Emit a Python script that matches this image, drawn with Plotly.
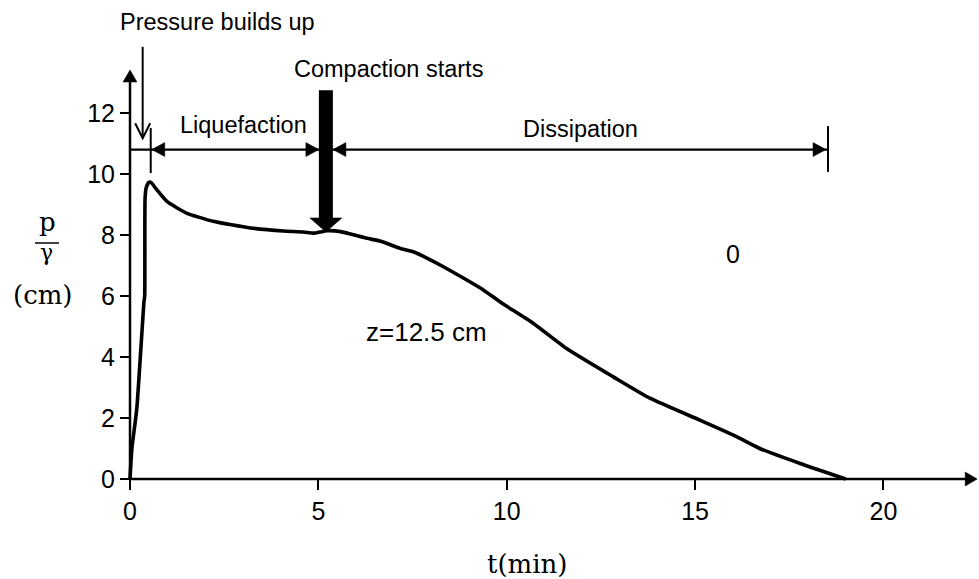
import plotly.graph_objects as go

# ---------------- data ----------------
t_min = [0, 0.05, 0.18, 0.37, 0.39, 0.40, 0.43, 0.50, 0.56, 0.70, 0.98, 1.5, 2.2,
         3.2, 4.07, 4.6, 4.87, 5.05, 5.23, 5.59, 6.29, 6.64, 7.18, 7.52, 8.32, 9.38,
         9.82, 10.71, 11.59, 12.83, 13.8, 15.13, 16.02, 16.72, 17.79, 19.0]
p_cm = [0, 1.0, 2.3, 5.8, 6.0, 9.2, 9.55, 9.73, 9.72, 9.5, 9.1, 8.72, 8.45,
        8.23, 8.13, 8.1, 8.06, 8.1, 8.14, 8.11, 7.89, 7.8, 7.56, 7.45, 6.96, 6.2,
        5.81, 5.1, 4.28, 3.35, 2.65, 1.93, 1.44, 1.0, 0.51, 0]

x_ticks = [0, 5, 10, 15, 20]
y_ticks = [0, 2, 4, 6, 8, 10, 12]

# event times / levels (minutes, cm)
t_build = 0.55        # end of pressure build-up
t_compact = 5.2       # compaction starts
t_end = 18.53         # end of dissipation
level_dim = 10.8      # level of the dimension line
x_axis_end = 22.49
y_axis_end = 13.41

# ---------------- layout geometry ----------------
W, H = 979, 579
ML, MR, MT, MB = 110, 0, 0, 80
X0PX, Y0PX = 130, 479          # pixel position of the origin
XPU, YPU = 37.67, 30.5         # pixels per unit
pw, ph = W - ML - MR, H - MT - MB
x_range = [-(X0PX - ML) / XPU, (W - MR - X0PX) / XPU]
y_range = [-((H - MB) - Y0PX) / YPU, (Y0PX - MT) / YPU]

def dx(px):
    return px / XPU

def dy(px):
    return px / YPU

BLACK = "#000000"
SANS = "Liberation Sans, Arial, sans-serif"
SERIF = "DejaVu Serif, serif"

fig = go.Figure()
fig.add_trace(go.Scatter(x=t_min, y=p_cm, mode="lines",
                         line=dict(color=BLACK, width=3.6, shape="spline", smoothing=0.5),
                         hoverinfo="skip", showlegend=False, cliponaxis=False))

shapes = []

def line(x0, y0, x1, y1, w=2):
    shapes.append(dict(type="line", xref="x", yref="y", x0=x0, y0=y0, x1=x1, y1=y1,
                       line=dict(color=BLACK, width=w)))

def tri(tipx, tipy, direction, length_px, half_px):
    # filled triangle arrowhead
    if direction == "right":
        pts = [(tipx, tipy), (tipx - dx(length_px), tipy + dy(half_px)), (tipx - dx(length_px), tipy - dy(half_px))]
    elif direction == "left":
        pts = [(tipx, tipy), (tipx + dx(length_px), tipy + dy(half_px)), (tipx + dx(length_px), tipy - dy(half_px))]
    elif direction == "up":
        pts = [(tipx, tipy), (tipx - dx(half_px), tipy - dy(length_px)), (tipx + dx(half_px), tipy - dy(length_px))]
    else:
        pts = [(tipx, tipy), (tipx - dx(half_px), tipy + dy(length_px)), (tipx + dx(half_px), tipy + dy(length_px))]
    path = "M " + " L ".join(f"{a},{b}" for a, b in pts) + " Z"
    shapes.append(dict(type="path", xref="x", yref="y", path=path,
                       fillcolor=BLACK, line=dict(color=BLACK, width=0.5)))

# axes with arrows
line(0, 0, x_axis_end - dx(8), 0, 2.5)
tri(x_axis_end, 0, "right", 12, 7)
line(0, 0, 0, y_axis_end - dy(8), 2.5)
tri(0, y_axis_end, "up", 12, 7)

# dimension line
line(0, level_dim, t_end, level_dim, 2.2)
line(t_build, 10.03, t_build, 11.51, 2)
line(t_end, 10.07, t_end, 11.57, 2)
bar_half = dx(7)
tri(t_build + dx(1), level_dim, "left", 13, 7)
tri(t_compact - bar_half, level_dim, "right", 13, 7)
tri(t_compact + bar_half, level_dim, "left", 13, 7)
tri(t_end - dx(2), level_dim, "right", 13, 7)

# thick "compaction starts" arrow
bar_top, head_base, head_tip = 12.75, 8.56, 8.10
shapes.append(dict(type="rect", xref="x", yref="y", x0=t_compact - bar_half, x1=t_compact + bar_half,
                   y0=head_base, y1=bar_top, fillcolor=BLACK, line=dict(width=0)))
tri(t_compact, head_tip, "down", (head_base - head_tip) * YPU, 16)

# pressure builds up arrow (open V head)
pb_x, pb_top, pb_tip = 0.336, 14.17, 11.17
line(pb_x, pb_top, pb_x, pb_tip, 2)
shapes.append(dict(type="path", xref="x", yref="y",
                   path=f"M {pb_x - dx(7.5)},{pb_tip + dy(15)} L {pb_x},{pb_tip} L {pb_x + dx(7.5)},{pb_tip + dy(15)}",
                   line=dict(color=BLACK, width=2)))

annotations = []

def text(x, y, s, size=23.5, family=SANS, xref="x", yref="y"):
    annotations.append(dict(x=x, y=y, xref=xref, yref=yref, text=s, showarrow=False,
                            xanchor="center", yanchor="middle",
                            font=dict(family=family, size=size, color=BLACK)))

text(2.32, 14.99, "Pressure builds up")
text(6.85, 13.43, "Compaction starts")
text(3.01, 11.62, "Liquefaction")
text(11.97, 11.49, "Dissipation")
text(16.01, 7.38, "0", size=25)
text(7.86, 4.82, "z=12.5 cm", size=26)

# axis titles (serif), positioned in paper units from pixel positions
def px2paper_x(px):
    return (px - ML) / pw

def px2paper_y(py):
    return ((H - MB) - py) / ph

text(px2paper_x(47), px2paper_y(222), "p", size=26, family=SERIF, xref="paper", yref="paper")
text(px2paper_x(46), px2paper_y(252), "γ", size=22, family=SERIF, xref="paper", yref="paper")
text(px2paper_x(43), px2paper_y(295), "(cm)", size=26, family=SERIF, xref="paper", yref="paper")
text(px2paper_x(527), px2paper_y(564), "t(min)", size=26, family=SERIF, xref="paper", yref="paper")
shapes.append(dict(type="line", xref="paper", yref="paper",
                   x0=px2paper_x(35), x1=px2paper_x(59), y0=px2paper_y(243), y1=px2paper_y(243),
                   line=dict(color=BLACK, width=1.5)))

fig.update_layout(
    width=W, height=H,
    margin=dict(l=ML, r=MR, t=MT, b=MB, pad=0),
    paper_bgcolor="white", plot_bgcolor="white",
    shapes=shapes, annotations=annotations,
    showlegend=False,
    xaxis=dict(range=x_range, tickvals=x_ticks, ticktext=[str(v) for v in x_ticks],
               ticks="outside", ticklen=10, tickwidth=2, tickcolor=BLACK,
               showgrid=False, zeroline=False, showline=False,
               anchor="free", position=px2paper_y(Y0PX),
               tickfont=dict(family=SANS, size=25, color=BLACK)),
    yaxis=dict(range=y_range, tickvals=y_ticks, ticktext=[str(v) for v in y_ticks],
               ticks="outside", ticklen=10, tickwidth=2, tickcolor=BLACK,
               showgrid=False, zeroline=False, showline=False,
               anchor="free", position=px2paper_x(X0PX),
               tickfont=dict(family=SANS, size=25, color=BLACK)),
)

fig.write_html("out.html")
